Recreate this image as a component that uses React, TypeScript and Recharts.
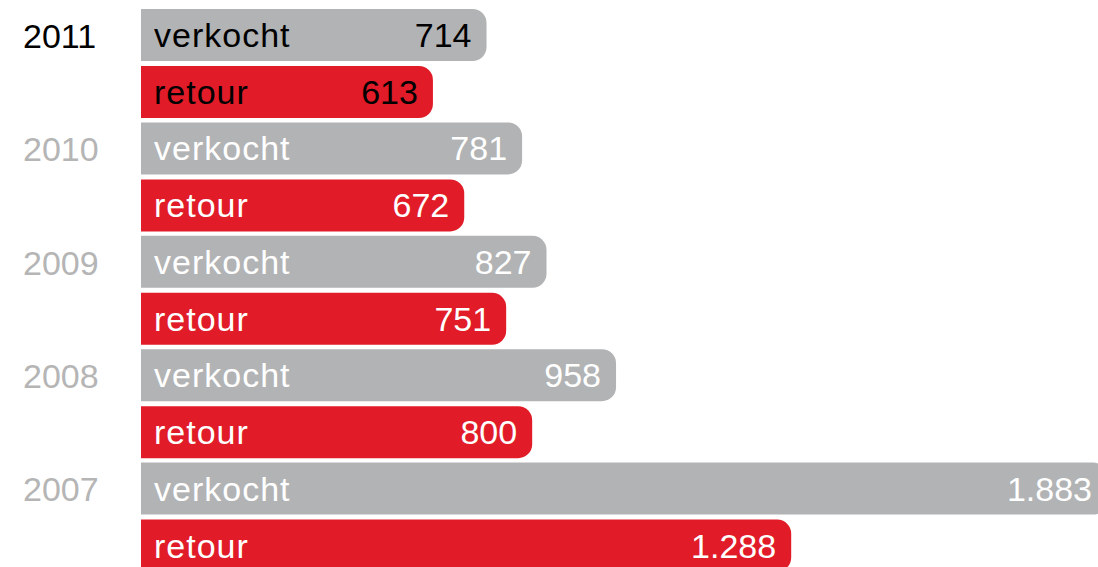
import { BarChart, Bar, XAxis, YAxis, LabelList } from "recharts";

// values
const years = ["2011", "2010", "2009", "2008", "2007"];
const verkocht = [714, 781, 827, 958, 1883];
const retour = [613, 672, 751, 800, 1288];

const data = years.map((year, i) => ({
  year,
  verkocht: verkocht[i],
  retour: retour[i],
}));

const GRAY = "#b2b3b5";
const RED = "#e11b27";
const FONT = "'Liberation Sans', Arial, sans-serif";

// dutch thousands separator: 1883 -> 1.883
const fmt = (v: number) => String(v).replace(/\B(?=(\d{3})+(?!\d))/g, ".");

const makeLabel = (name: string) => (props: any) => {
  const { x, y, width, height, index, value } = props;
  const fill = index === 0 ? "#000" : "#fff";
  const base = y + height / 2 + 12;
  return (
    <g>
      <text
        x={x + 13}
        y={base}
        fill={fill}
        fontSize={34}
        fontFamily={FONT}
        letterSpacing={1}
      >
        {name}
      </text>
      <text
        x={x + width - 15}
        y={base}
        fill={fill}
        fontSize={34}
        fontFamily={FONT}
        textAnchor="end"
      >
        {fmt(value)}
      </text>
    </g>
  );
};

const YearTick = (props: any) => {
  const { y, payload, index } = props;
  return (
    <text
      x={23}
      y={y - 28 + 12}
      fill={index === 0 ? "#000" : "#b5b5b5"}
      fontSize={34}
      fontFamily={FONT}
    >
      {payload.value}
    </text>
  );
};

export default function App() {
  return (
    <div
      style={{
        position: "absolute",
        left: 0,
        top: 0,
        width: 1098,
        height: 567,
        overflow: "hidden",
        background: "#fff",
      }}
    >
      <BarChart
        width={1107}
        height={574}
        data={data}
        layout="vertical"
        margin={{ top: 7, right: 0, bottom: 0, left: 0 }}
        barSize={52}
        barGap={5}
      >
        <XAxis type="number" domain={[63, 1883]} allowDataOverflow hide />
        <YAxis
          type="category"
          dataKey="year"
          width={141}
          axisLine={false}
          tickLine={false}
          tick={<YearTick />}
        />
        <Bar
          dataKey="verkocht"
          fill={GRAY}
          radius={[0, 14, 14, 0]}
          isAnimationActive={false}
        >
          <LabelList dataKey="verkocht" content={makeLabel("verkocht")} />
        </Bar>
        <Bar
          dataKey="retour"
          fill={RED}
          radius={[0, 14, 14, 0]}
          isAnimationActive={false}
        >
          <LabelList dataKey="retour" content={makeLabel("retour")} />
        </Bar>
      </BarChart>
    </div>
  );
}
